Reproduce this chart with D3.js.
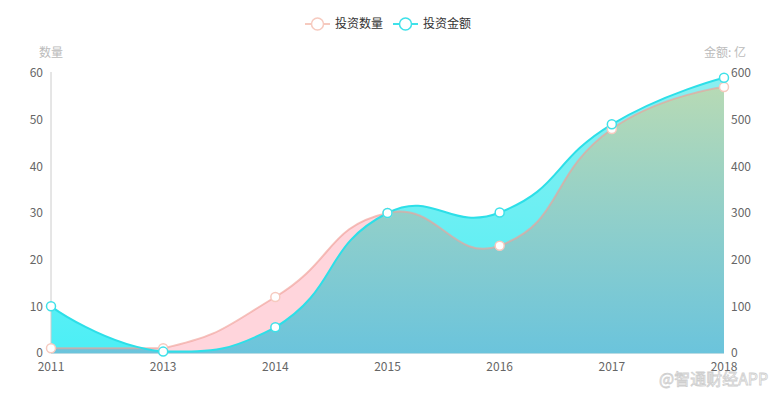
<!DOCTYPE html>
<html><head><meta charset="utf-8">
<script src="https://cdn.jsdelivr.net/npm/d3@7/dist/d3.min.js"></script>
<style>html,body{margin:0;padding:0;background:#fff;}svg{display:block;font-family:"Noto Sans CJK SC","Noto Sans",sans-serif;}</style>
</head><body>
<svg id="c" width="777" height="397"></svg>
<script>
const years = ["2011","2013","2014","2015","2016","2017","2018"];
const countValues = [1, 1, 12, 30, 23, 48, 57];
const amountValues = [100, 3, 55, 300, 301, 490, 590];
const leftTicks = [0,10,20,30,40,50,60];
const rightTicks = [0,100,200,300,400,500,600];
const seriesNames = ["投资数量","投资金额"];

const svg = d3.select("#c");
const L = 51, R = 724, T = 73, B = 353;
const x = d3.scalePoint().domain(years).range([L, R]);
const yL = d3.scaleLinear().domain([0,60]).range([B, T]);
const yR = d3.scaleLinear().domain([0,600]).range([B, T]);

// ECharts-4 style smooth (smooth=0.5 with bbox constraint)
function smoothPath(pts, smooth) {
  const p = d3.path();
  const minX = d3.min(pts, d=>d[0]), maxX = d3.max(pts, d=>d[0]);
  const minY = d3.min(pts, d=>d[1]), maxY = d3.max(pts, d=>d[1]);
  const clamp = c => [Math.max(minX, Math.min(maxX, c[0])), Math.max(minY, Math.min(maxY, c[1]))];
  p.moveTo(pts[0][0], pts[0][1]);
  let cp0 = pts[0].slice();
  for (let i = 1; i < pts.length; i++) {
    const cur = pts[i], prev = pts[i-1], next = pts[i+1];
    let cp1, ratio = 0.5, v = [0,0];
    if (!next) { cp1 = cur.slice(); }
    else {
      v = [next[0]-prev[0], next[1]-prev[1]];
      const lp = Math.hypot(cur[0]-prev[0], cur[1]-prev[1]);
      const ln = Math.hypot(next[0]-cur[0], next[1]-cur[1]);
      ratio = ln/(ln+lp);
      cp1 = [cur[0]-v[0]*smooth*(1-ratio), cur[1]-v[1]*smooth*(1-ratio)];
    }
    cp0 = clamp(cp0); cp1 = clamp(cp1);
    p.bezierCurveTo(cp0[0], cp0[1], cp1[0], cp1[1], cur[0], cur[1]);
    cp0 = [cur[0]+v[0]*smooth*ratio, cur[1]+v[1]*smooth*ratio];
  }
  return p.toString();
}
const countPts = years.map((yr,i)=>[x(yr), yL(countValues[i])]);
const amountPts = years.map((yr,i)=>[x(yr), yR(amountValues[i])]);
const countLine = smoothPath(countPts, 0.5);
const amountLine = smoothPath(amountPts, 0.5);
const areaOf = (line) => line + `L${R},${B}L${L},${B}Z`;

const defs = svg.append("defs");
const g1 = defs.append("linearGradient").attr("id","gCyan").attr("gradientUnits","userSpaceOnUse")
  .attr("x1",0).attr("y1",T).attr("x2",0).attr("y2",B);
g1.append("stop").attr("offset",0).attr("stop-color","#8ceff0");
g1.append("stop").attr("offset",1).attr("stop-color","#4ceff6");
const g2 = defs.append("linearGradient").attr("id","gOver").attr("gradientUnits","userSpaceOnUse")
  .attr("x1",0).attr("y1",86).attr("x2",0).attr("y2",B);
g2.append("stop").attr("offset",0).attr("stop-color","#b7dab5");
g2.append("stop").attr("offset",0.5).attr("stop-color","#90cfca");
g2.append("stop").attr("offset",1).attr("stop-color","#6bc4dc");
defs.append("clipPath").attr("id","clipCyan").append("path").attr("d", areaOf(amountLine));

// areas
svg.append("path").attr("d", areaOf(countLine)).attr("fill","#ffd5dc");
svg.append("path").attr("d", areaOf(amountLine)).attr("fill","url(#gCyan)");
svg.append("path").attr("d", areaOf(countLine)).attr("fill","url(#gOver)").attr("clip-path","url(#clipCyan)");

// axes lines
svg.append("line").attr("x1",L).attr("x2",L).attr("y1",T-1).attr("y2",B).attr("stroke","#ccc").attr("stroke-width",1);
svg.append("line").attr("x1",L).attr("x2",R).attr("y1",B+0.5).attr("y2",B+0.5).attr("stroke","#b9dbe3").attr("stroke-width",1);

// lines
svg.append("path").attr("d", countLine).attr("fill","none").attr("stroke","rgba(240,160,152,0.65)").attr("stroke-width",2);
svg.append("path").attr("d", amountLine).attr("fill","none").attr("stroke","#2ddfe8").attr("stroke-width",2);

// symbols
svg.selectAll("circle.cnt").data(countPts).enter().append("circle")
  .attr("cx",d=>d[0]).attr("cy",d=>d[1]).attr("r",4.5).attr("fill","#fff").attr("stroke","#f6cabf").attr("stroke-width",1.5);
svg.selectAll("circle.amt").data(amountPts).enter().append("circle")
  .attr("cx",d=>d[0]).attr("cy",d=>d[1]).attr("r",4.5).attr("fill","#fff").attr("stroke","#3fe1e9").attr("stroke-width",1.5);

// tick labels
svg.append("g").selectAll("text").data(leftTicks).enter().append("text")
  .attr("x",43).attr("y",d=>yL(d)).attr("dy","0.35em").attr("text-anchor","end")
  .attr("font-size",12).attr("fill","#666").text(d=>d);
svg.append("g").selectAll("text").data(rightTicks).enter().append("text")
  .attr("x",731).attr("y",d=>yR(d)).attr("dy","0.35em").attr("text-anchor","start")
  .attr("font-size",12).attr("fill","#666").text(d=>d);
svg.append("g").selectAll("text").data(years).enter().append("text")
  .attr("x",d=>x(d)).attr("y",367).attr("dy","0.35em").attr("text-anchor","middle")
  .attr("font-size",12).attr("fill","#666").text(d=>d);

// axis names
svg.append("text").attr("x",51).attr("y",53).attr("dy","0.35em").attr("text-anchor","middle")
  .attr("font-size",12).attr("fill","#bbb").text("数量");
svg.append("text").attr("x",746).attr("y",53).attr("dy","0.35em").attr("text-anchor","end")
  .attr("font-size",12).attr("fill","#bbb").text("金额: 亿");

// legend
const leg = [{name:seriesNames[0], x:305, stroke:"#f6cabf", line:"#f6cabf"},
             {name:seriesNames[1], x:393, stroke:"#3fe1e9", line:"#3fe1e9"}];
const lg = svg.append("g").selectAll("g").data(leg).enter().append("g");
lg.append("line").attr("x1",d=>d.x).attr("x2",d=>d.x+25).attr("y1",24).attr("y2",24).attr("stroke",d=>d.line).attr("stroke-width",2);
lg.append("circle").attr("cx",d=>d.x+12.5).attr("cy",24).attr("r",6).attr("fill","#fff").attr("stroke",d=>d.stroke).attr("stroke-width",1.5);
lg.append("text").attr("x",d=>d.x+30).attr("y",24).attr("dy","0.35em").attr("font-size",12).attr("fill","#333").text(d=>d.name);

// watermark
svg.append("text").attr("x",659).attr("y",379).attr("dy","0.35em").attr("font-size",16)
  .attr("fill","#fff").attr("stroke","#cfcfcf").attr("stroke-width",0.8).text("@智通财经APP");
</script>
</body></html>
